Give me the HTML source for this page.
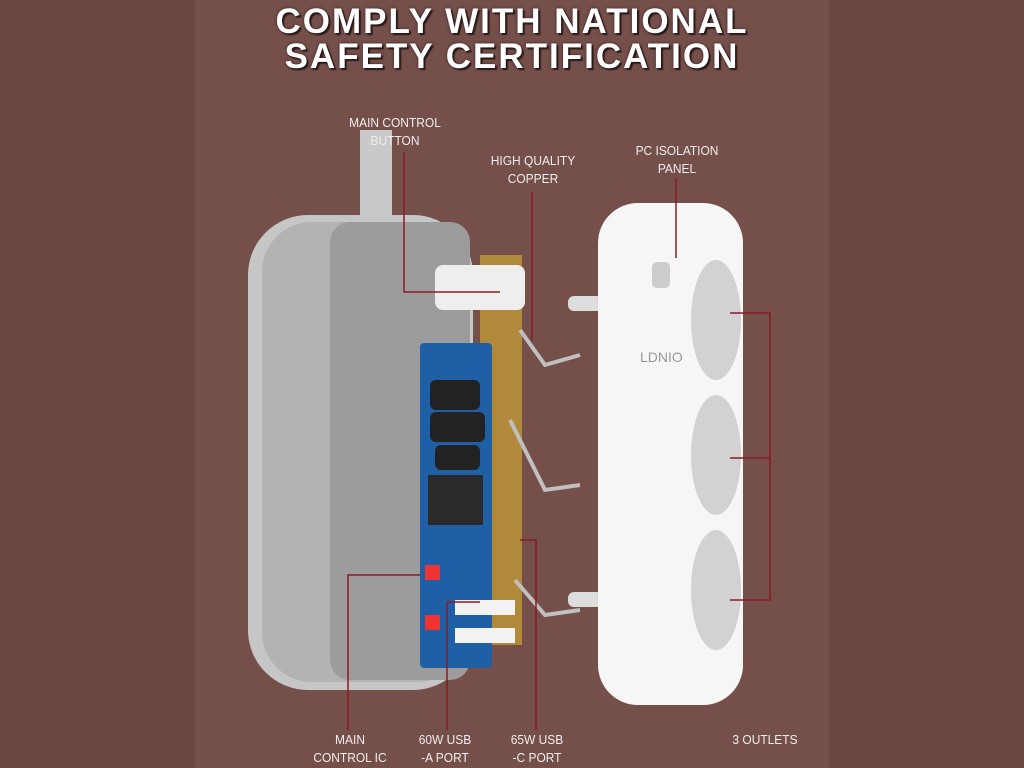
<!DOCTYPE html>
<html><head><style>
body{margin:0;width:1024px;height:768px;overflow:hidden;background:#6b4743;font-family:"Liberation Sans",sans-serif;position:relative}
.c{position:absolute;left:195px;top:0;width:634px;height:768px;background:#75504b}
.t{position:absolute;left:195px;width:634px;text-align:center;color:#fff;font-weight:bold;font-size:35px;letter-spacing:2px;text-shadow:2px 2px 1px #2a1a18,0 0 3px #3a2020}
.l{position:absolute;color:#eee;font-size:13px;text-align:center;line-height:18px;transform:scaleX(.92)}
svg{position:absolute;left:0;top:0}
</style></head><body>
<div class="c"></div>
<div class="t" style="top:2px">COMPLY WITH NATIONAL</div>
<div class="t" style="top:37px">SAFETY CERTIFICATION</div>
<svg width="1024" height="768">
<rect x="360" y="130" width="32" height="90" fill="#c9c9c9"/>
<rect x="248" y="215" width="225" height="475" rx="60" fill="#c6c6c6"/>
<rect x="262" y="222" width="205" height="460" rx="50" fill="#b3b3b3"/>
<rect x="330" y="222" width="140" height="458" rx="20" fill="#9c9c9c"/>
<rect x="480" y="255" width="42" height="390" fill="#b08a3a"/>
<rect x="420" y="343" width="72" height="325" rx="4" fill="#1f5fa6"/>
<rect x="430" y="380" width="50" height="30" rx="6" fill="#222"/>
<rect x="430" y="412" width="55" height="30" rx="6" fill="#222"/>
<rect x="435" y="445" width="45" height="25" rx="6" fill="#222"/>
<rect x="428" y="475" width="55" height="50" fill="#2a2a2a"/>
<rect x="425" y="565" width="15" height="15" fill="#e33"/>
<rect x="425" y="615" width="15" height="15" fill="#e33"/>
<rect x="455" y="600" width="60" height="15" fill="#f2f2f2"/>
<rect x="455" y="628" width="60" height="15" fill="#f2f2f2"/>
<rect x="435" y="265" width="90" height="45" rx="8" fill="#eee"/>
<g stroke="#c0c0c0" stroke-width="4" fill="none">
<path d="M520 330 L545 365 L580 355"/><path d="M510 420 L545 490 L580 485"/><path d="M515 580 L545 615 L580 610"/>
</g>
<rect x="568" y="296" width="34" height="15" rx="6" fill="#ddd"/>
<rect x="568" y="592" width="34" height="15" rx="6" fill="#ddd"/>
<rect x="598" y="203" width="145" height="502" rx="40" fill="#f6f6f6"/>
<g fill="#d2d2d2">
<ellipse cx="716" cy="320" rx="25" ry="60"/><ellipse cx="716" cy="455" rx="25" ry="60"/><ellipse cx="716" cy="590" rx="25" ry="60"/>
</g>
<rect x="652" y="262" width="18" height="26" rx="5" fill="#ccc"/>
<text x="640" y="362" font-size="14" fill="#999" font-family="Liberation Sans">LDNIO</text>
<g stroke="#8a1b24" stroke-width="1.5" fill="none">
<path d="M404 152 V292 H500"/>
<path d="M532 192 V340"/>
<path d="M676 178 V258"/>
<path d="M730 313 H770 V600 H730 M770 458 H730"/>
<path d="M348 730 V575 H420"/>
<path d="M447 730 V602 H480"/>
<path d="M536 730 V540 H520"/>
</g>
</svg>
<div class="l" style="left:340px;top:114px;width:110px">MAIN CONTROL<br>BUTTON</div>
<div class="l" style="left:478px;top:152px;width:110px">HIGH QUALITY<br>COPPER</div>
<div class="l" style="left:622px;top:142px;width:110px">PC ISOLATION<br>PANEL</div>
<div class="l" style="left:295px;top:731px;width:110px">MAIN<br>CONTROL IC</div>
<div class="l" style="left:400px;top:731px;width:90px">60W USB<br>-A PORT</div>
<div class="l" style="left:492px;top:731px;width:90px">65W USB<br>-C PORT</div>
<div class="l" style="left:715px;top:731px;width:100px">3 OUTLETS</div>
</body></html>
